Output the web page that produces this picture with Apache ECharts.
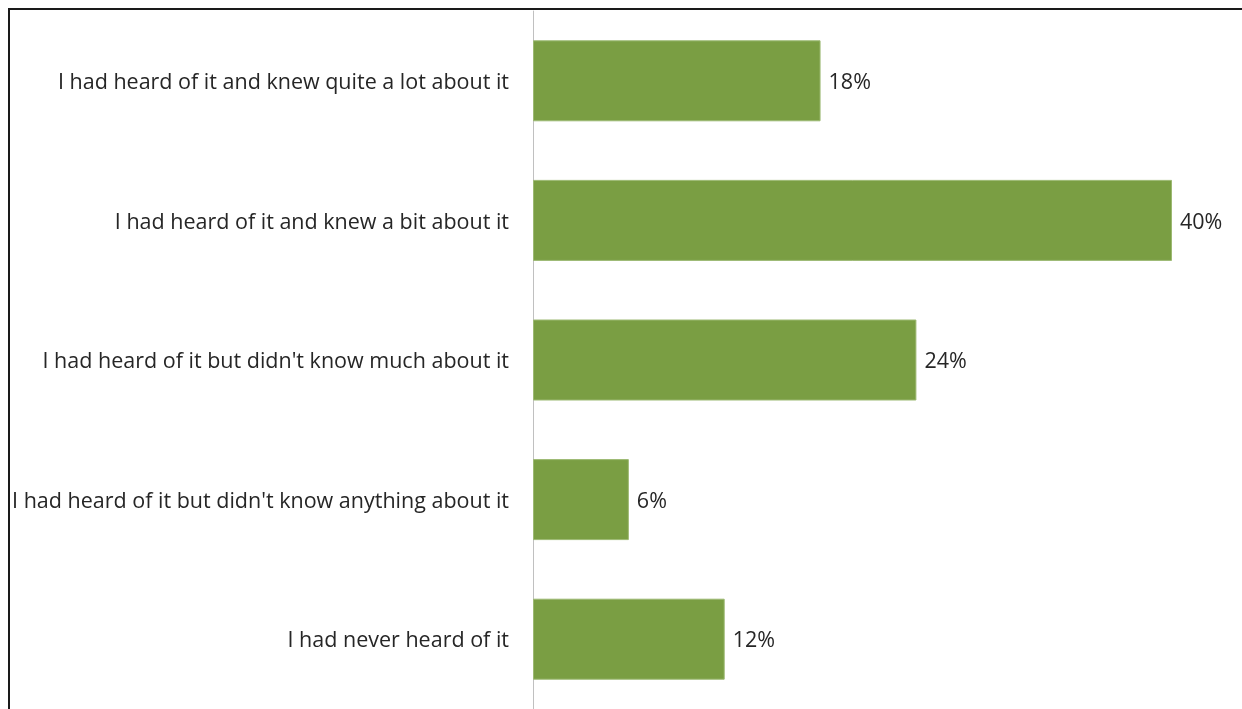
<!DOCTYPE html>
<html>
<head>
<meta charset="utf-8">
<script src="https://cdn.jsdelivr.net/npm/echarts@6/dist/echarts.min.js"></script>
<style>
html,body{margin:0;padding:0;background:#fff;}
#chart{width:1242px;height:709px;}
</style>
</head>
<body>
<div id="chart"></div>
<script>
const categories = [
  "I had heard of it and knew quite a lot about it",
  "I had heard of it and knew a bit about it",
  "I had heard of it but didn't know much about it",
  "I had heard of it but didn't know anything about it",
  "I had never heard of it"
];
const values = [18, 40, 24, 6, 12];

const FONT = 'Open Sans';
const chart = echarts.init(document.getElementById('chart'), null, {renderer: 'canvas'});
chart.setOption({
  animation: false,
  backgroundColor: '#ffffff',
  textStyle: {fontFamily: FONT},
  graphic: [{
    type: 'rect',
    shape: {x: 9, y: 9, width: 1300, height: 800},
    style: {fill: 'none', stroke: '#1a1a1a', lineWidth: 2},
    silent: true,
    z: 100
  }],
  grid: {left: 533, top: 11, width: 639, height: 700, containLabel: false},
  xAxis: {
    type: 'value', min: 0, max: 40, show: false
  },
  yAxis: {
    type: 'category',
    data: categories,
    inverse: true,
    axisLine: {show: true, lineStyle: {color: '#c0c0c0', width: 1}},
    axisTick: {show: false},
    axisLabel: {
      color: '#262626', fontSize: 21.5, fontFamily: FONT, margin: 24,
      formatter: v => '{a|' + v + '}',
      rich: {a: {color: '#262626', fontSize: 21.5, fontFamily: FONT, padding: [4, 0, 0, 0]}}
    }
  },
  series: [{
    type: 'bar',
    data: values,
    barWidth: 81,
    itemStyle: {color: '#7a9e43', borderColor: '#9cb972', borderWidth: 1},
    label: {
      show: true, position: 'right', distance: 8,
      formatter: p => p.value + '%',
      offset: [0, 2],
      color: '#262626', fontSize: 21.5, fontFamily: FONT
    }
  }]
});
</script>
</body>
</html>
